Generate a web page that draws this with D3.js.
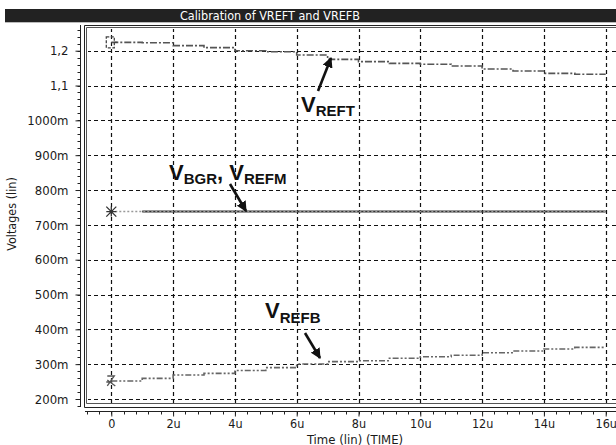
<!DOCTYPE html>
<html><head><meta charset="utf-8">
<script src="https://cdn.jsdelivr.net/npm/d3@7"></script>
<style>
html,body{margin:0;padding:0;background:#fff;}
svg{display:block;}
.tick-label{font-family:"DejaVu Sans Condensed","DejaVu Sans",sans-serif;font-size:12.5px;fill:#1a1a1a;}
.ann{font-family:"Liberation Sans",Arial,sans-serif;font-weight:bold;fill:#111;}
</style></head>
<body>
<svg id="c" width="616" height="445"></svg>
<script>
// ---------- data ----------
const title = "Calibration of VREFT and VREFB";
const xTitle = "Time (lin) (TIME)";
const yTitle = "Voltages (lin)";
// time points (µs) at which each step starts
const timeSteps = [0,1,2,3,4,5,6,7,8,9,10,11,12,13,14,15,16];
const vreft = [1.224,1.223,1.2145,1.2087,1.200,1.197,1.1877,1.1752,1.1685,1.1637,1.1609,1.1561,1.1475,1.1417,1.1350,1.1322,1.1322];
const vrefb = [0.2517,0.2593,0.2689,0.2737,0.2820,0.2900,0.3005,0.3072,0.3100,0.3168,0.3215,0.3254,0.3330,0.3378,0.3436,0.3483,0.3483];
const vbgrTime = [0,16];
const vbgr = [0.738,0.738];
const vrefmTime = [1,16];
const vrefm = [0.738,0.738];
const xTickValues = [0,2,4,6,8,10,12,14,16];
const xTickLabels = ["0","2u","4u","6u","8u","10u","12u","14u","16u"];
const yTickValues = [0.2,0.3,0.4,0.5,0.6,0.7,0.8,0.9,1.0,1.1,1.2];
const yTickLabels = ["200m","300m","400m","500m","600m","700m","800m","900m","1000m","1,1","1,2"];

// ---------- layout ----------
const svg = d3.select("#c");
const x = d3.scaleLinear().domain([0,16]).range([111.3,605.7]);
const y = d3.scaleLinear().domain([0.2,1.2]).range([399,50.7]);
const frame = {l:84, r:640, t:25, b:407};
const inner = {l:87, r:640, t:28, b:404};

// title bar
svg.append("rect").attr("x",5).attr("y",9).attr("width",611).attr("height",13).attr("fill","#222");
svg.append("line").attr("x1",5).attr("x2",616).attr("y1",22.5).attr("y2",22.5).attr("stroke","#bbb");
svg.append("text").attr("x",270).attr("y",20).attr("text-anchor","middle")
  .attr("class","tick-label").style("fill","#fff").style("font-size","12.5px").text(title);

// clip
svg.append("clipPath").attr("id","clip").append("rect")
  .attr("x",inner.l+1).attr("y",inner.t+1).attr("width",inner.r-inner.l).attr("height",inner.b-inner.t-1);

// grid
const grid = svg.append("g").attr("clip-path","url(#clip)");
grid.selectAll(".gx").data(xTickValues).join("line")
  .attr("x1",d=>Math.round(x(d))+0.5).attr("x2",d=>Math.round(x(d))+0.5)
  .attr("y1",inner.t).attr("y2",inner.b)
  .attr("stroke","#111").attr("stroke-width",1.2).attr("stroke-dasharray","4,3");
grid.selectAll(".gy").data(yTickValues).join("line")
  .attr("y1",d=>Math.round(y(d))+0.5).attr("y2",d=>Math.round(y(d))+0.5)
  .attr("x1",inner.l).attr("x2",inner.r)
  .attr("stroke","#111").attr("stroke-width",1.2).attr("stroke-dasharray","4,3");

// frame (double lines)
const fr = svg.append("g").attr("fill","none").attr("stroke","#222").attr("stroke-width",1);
fr.append("path").attr("d",`M${frame.r},${frame.t+0.5}H${frame.l+0.5}V${frame.b+0.5}H${frame.r}`);
fr.append("path").attr("d",`M${inner.r},${inner.t-0.5}H${inner.l-0.5}V${inner.b-0.5}H${inner.r}`).attr("stroke","#555");

// y axis
const yAxis = d3.axisLeft(y).tickValues(yTickValues).tickFormat((d,i)=>yTickLabels[i]).tickSize(5).tickPadding(7);
const yMinor = d3.range(0.18,1.27,0.02);
const ya = svg.append("g").attr("transform","translate(80.5,0)");
ya.call(yAxis);
ya.select(".domain").attr("d",`M0,${frame.t}V${frame.b}`).attr("stroke","#222");
ya.selectAll(".tick line").attr("stroke","#222");
ya.selectAll(".tick text").attr("class","tick-label").attr("font-family",null).attr("font-size",null).style("font-size","13px");
ya.selectAll(".minor").data(yMinor).join("line").attr("class","minor")
  .attr("x1",-3).attr("x2",0).attr("y1",d=>Math.round(y(d))+0.5).attr("y2",d=>Math.round(y(d))+0.5).attr("stroke","#222");

// x axis
const xAxis = d3.axisBottom(x).tickValues(xTickValues).tickFormat((d,i)=>xTickLabels[i]).tickSize(5).tickPadding(3);
const xMinor = d3.range(-0.8,16.5,0.4);
const xa = svg.append("g").attr("transform","translate(0,411.5)");
xa.call(xAxis);
xa.select(".domain").attr("d",`M${frame.l+1},0H616`).attr("stroke","#222");
xa.selectAll(".tick line").attr("stroke","#222");
xa.selectAll(".tick text").attr("class","tick-label").attr("font-family",null).attr("font-size",null).style("font-size","12.5px");
xa.selectAll(".minor").data(xMinor).join("line").attr("class","minor")
  .attr("y1",0).attr("y2",3).attr("x1",d=>Math.round(x(d))+0.5).attr("x2",d=>Math.round(x(d))+0.5).attr("stroke","#222");

// axis titles
svg.append("text").attr("x",355).attr("y",443.5).attr("text-anchor","middle").attr("class","tick-label")
  .style("font-size","13px").text(xTitle);
svg.append("text").attr("transform","translate(16,214) rotate(-90)").attr("text-anchor","middle")
  .attr("class","tick-label").style("font-size","12.5px").text(yTitle);

// series
const plot = svg.append("g").attr("clip-path","url(#clip)");
const stepLine = d3.line().x(d=>x(d[0])).y(d=>y(d[1])).curve(d3.curveStepAfter);
plot.append("path").datum(timeSteps.map((t,i)=>[t,vreft[i]]))
  .attr("d",stepLine).attr("fill","none").attr("stroke","#555").attr("stroke-width",1.6).attr("stroke-dasharray","7,2,2,2");
plot.append("path").datum(timeSteps.map((t,i)=>[t,vrefb[i]]))
  .attr("d",stepLine).attr("fill","none").attr("stroke","#666").attr("stroke-width",1.6).attr("stroke-dasharray","6,2,2,2,2,2");
plot.append("path").datum(vrefmTime.map((t,i)=>[t,vrefm[i]]))
  .attr("d",stepLine).attr("fill","none").attr("stroke","#333").attr("stroke-width",2);
plot.append("path").datum(vbgrTime.map((t,i)=>[t,vbgr[i]]))
  .attr("d",stepLine).attr("fill","none").attr("stroke","#999").attr("stroke-width",1.5).attr("stroke-dasharray","2,2");

// markers
const mk = svg.append("g").attr("fill","none").attr("stroke","#444").attr("stroke-width",1.3);
{ const cx=x(timeSteps[0]), cy=y(vreft[0]);
  mk.append("rect").attr("x",cx-5).attr("y",cy-5.5).attr("width",8).attr("height",11).attr("stroke-dasharray","3,1.5");
  mk.append("line").attr("x1",cx+3).attr("x2",cx+6).attr("y1",cy).attr("y2",cy); }
{ const cx=x(vbgrTime[0]), cy=y(vbgr[0]), r=5;
  mk.append("path").attr("d",`M${cx-r},${cy-r}L${cx+r},${cy+r}M${cx-r},${cy+r}L${cx+r},${cy-r}M${cx-r},${cy}H${cx+r}M${cx},${cy-r}V${cy+r}`).attr("stroke","#333"); }
{ const cx=x(timeSteps[0]), cy=y(vrefb[0]), r=5;
  mk.append("path").attr("d",`M${cx-4},${cy-r}H${cx+3}L${cx-4},${cy+r}M${cx-4},${cy-1}L${cx+4},${cy+r}M${cx-5},${cy+1}H${cx+1}`).attr("stroke","#555"); }

// annotations
svg.append("defs").append("marker").attr("id","ah").attr("viewBox","0 0 10 10").attr("refX",9).attr("refY",5)
  .attr("markerWidth",4).attr("markerHeight",4).attr("orient","auto-start-reverse")
  .append("path").attr("d","M0,0L10,5L0,10z").attr("fill","#111");
function label(xp, yp, parts){
  const t = svg.append("text").attr("class","ann").attr("x",xp).attr("y",yp);
  parts.forEach(p=>{
    t.append("tspan").attr("dy",p.dy||0).style("font-size",p.sz+"px").text(p.t);
  });
}
function arrow(x1,y1,x2,y2){
  svg.append("line").attr("x1",x1).attr("y1",y1).attr("x2",x2).attr("y2",y2)
    .attr("stroke","#111").attr("stroke-width",2.6).attr("marker-end","url(#ah)");
}
label(301,111.5,[{t:"V",sz:22},{t:"REFT",sz:15,dy:4.5}]);
arrow(318,91,331,58);
label(169,179.5,[{t:"V",sz:22},{t:"BGR",sz:15,dy:4},{t:",",sz:22,dy:-4},{t:" V",sz:22},{t:"REFM",sz:15,dy:4}]);
arrow(230,184,246,211);
label(265,318,[{t:"V",sz:22},{t:"REFB",sz:15,dy:4.5}]);
arrow(305,333,320,358);
</script>
</body></html>
